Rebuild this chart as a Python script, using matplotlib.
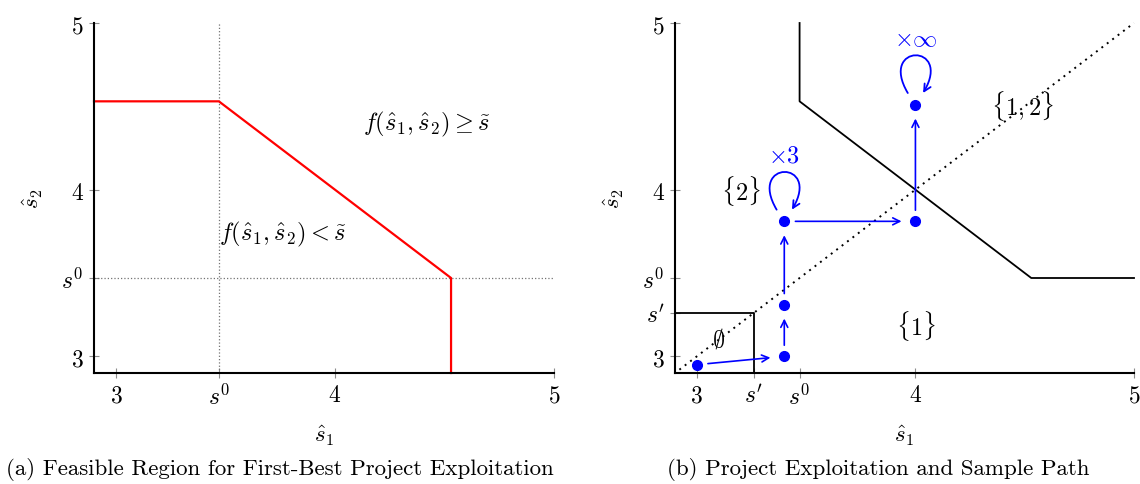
import numpy as np
import matplotlib
matplotlib.use("Agg")
import matplotlib.pyplot as plt
from matplotlib.patches import FancyArrowPatch
from matplotlib.path import Path

plt.rcParams['mathtext.fontset'] = 'cm'
plt.rcParams['font.family'] = 'serif'

# thresholds
s0 = 3.47
s_prime = 3.26
s_upper = 4.53
lo, hi = 2.9, 5.0

# panel (a): first-best boundary (red)
fb_x = [lo, s0, s_upper, s_upper]
fb_y = [s_upper, s_upper, s0, lo]

# panel (b): exploitation boundary, empty-set box, sample path
pe_x = [s0, s0, s_upper, hi]
pe_y = [hi, s_upper, s0, s0]
box_x = [lo, s_prime, s_prime]
box_y = [s_prime, s_prime, lo]
path_x = [3.0, 3.4, 3.4, 3.4, 4.0, 4.0]
path_y = [2.95, 3.0, 3.31, 3.81, 3.81, 4.51]
loops = [(3, r'$\times 3$'), (5, r'$\times\infty$')]

ticks_a = [3, s0, 4, 5]
labels_a = ['$3$', '$s^0$', '$4$', '$5$']
ticks_b = [3, s_prime, s0, 4, 5]
labels_b = ['$3$', "$s'$", '$s^0$', '$4$', '$5$']

TICK_FS = 17
TXT_FS = 17.5
BLUE = (0, 0, 1)

fig = plt.figure(figsize=(11.4, 4.85), dpi=100)
ax1 = fig.add_axes([94 / 1140, 111 / 485, 460 / 1140, 350 / 485])
ax2 = fig.add_axes([675 / 1140, 111 / 485, 459 / 1140, 350 / 485])


def style_axes(ax, ticks, labels):
    ax.set_xlim(lo, hi)
    ax.set_ylim(lo, hi)
    for side in ['top', 'right']:
        ax.spines[side].set_visible(False)
    for side in ['left', 'bottom']:
        ax.spines[side].set_linewidth(1.5)
    ax.set_xticks(ticks)
    ax.set_xticklabels(labels)
    ax.set_yticks(ticks)
    ax.set_yticklabels(labels)
    ax.tick_params(direction='inout', length=7, width=0.8, color='0.55',
                   labelsize=TICK_FS, pad=4)
    ax.set_xlabel(r'$\hat{s}_1$', fontsize=16.5, labelpad=10)
    ax.set_ylabel(r'$\hat{s}_2$', fontsize=16.5, labelpad=12)


style_axes(ax1, ticks_a, labels_a)
ax1.plot([s0, s0], [lo, hi], ls=':', color='0.45', lw=0.9)
ax1.plot([lo, hi], [s0, s0], ls=':', color='0.45', lw=0.9)
ax1.plot(fb_x, fb_y, color='red', lw=1.6, clip_on=False)
ax1.text(4.13, 4.40, r'$f(\hat{s}_1,\hat{s}_2)\geq\tilde{s}$', fontsize=TXT_FS,
         ha='left', va='center')
ax1.text(3.47, 3.74, r'$f(\hat{s}_1,\hat{s}_2)<\tilde{s}$', fontsize=TXT_FS,
         ha='left', va='center')

style_axes(ax2, ticks_b, labels_b)
ax2.plot([2.92, hi], [2.92, hi], ls=(0, (1, 2.5)), color='black', lw=1.4, clip_on=False)
ax2.plot(pe_x, pe_y, color='black', lw=1.3, clip_on=False)
ax2.plot(box_x, box_y, color='black', lw=1.3)

ax2.plot(path_x, path_y, 'o', color=BLUE, ms=7, zorder=5)
for i in range(len(path_x) - 1):
    ax2.annotate('', xy=(path_x[i + 1], path_y[i + 1]), xytext=(path_x[i], path_y[i]),
                 arrowprops=dict(arrowstyle='->,head_length=0.5,head_width=0.25',
                                 color=BLUE, lw=1.2, shrinkA=8, shrinkB=10))

for idx, lab in loops:
    x, y = path_x[idx], path_y[idx]
    verts = [(x - 0.035, y + 0.07), (x - 0.17, y + 0.37), (x + 0.17, y + 0.37), (x + 0.035, y + 0.07)]
    loop = Path(verts, [Path.MOVETO, Path.CURVE4, Path.CURVE4, Path.CURVE4])
    ax2.add_patch(FancyArrowPatch(path=loop, arrowstyle='->,head_length=0.5,head_width=0.25',
                                  color=BLUE, lw=1.3, mutation_scale=10))
    ax2.text(x, y + 0.40, lab, color=BLUE, fontsize=TXT_FS, ha='center', va='center')

ax2.text(3.20, 4.0, r'$\{2\}$', fontsize=TXT_FS, ha='center', va='center')
ax2.text(4.49, 4.51, r'$\{1,2\}$', fontsize=TXT_FS, ha='center', va='center')
ax2.text(4.0, 3.19, r'$\{1\}$', fontsize=TXT_FS, ha='center', va='center')
ax2.text(3.10, 3.11, r'$\emptyset$', fontsize=TXT_FS, ha='center', va='center')

fig.text(280 / 1140, 1 - 470 / 485, '(a) Feasible Region for First-Best Project Exploitation',
         family='cmr10', fontsize=16.5, ha='center', va='center')
fig.text(878 / 1140, 1 - 470 / 485, '(b) Project Exploitation and Sample Path',
         family='cmr10', fontsize=16.5, ha='center', va='center')

fig.savefig('out.png', dpi=100)
